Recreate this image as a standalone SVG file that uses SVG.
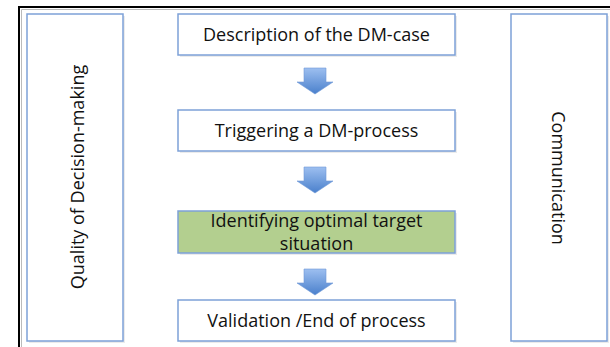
<svg xmlns="http://www.w3.org/2000/svg" width="610" height="347" viewBox="0 0 610 347">
<style>
.box{fill:#fff;stroke:#7da1d8;stroke-width:1.5}
.green{fill:#b3cf8f;stroke:#7da1d8;stroke-width:1.5}
.sh{fill:#000;opacity:0.08}
.t{font-family:"Open Sans","Liberation Sans",Arial,sans-serif;font-size:18px;fill:#111;text-anchor:middle}
.arrow{fill:url(#ag);stroke:#6f98d6;stroke-width:0.6}
</style>
<defs>
<linearGradient id="ag" x1="0" y1="0" x2="0" y2="1">
<stop offset="0" stop-color="#9dbff0"/>
<stop offset="1" stop-color="#4a80cc"/>
</linearGradient>
<path id="arr" d="M-11,0 H11 V14 H18 L0,26 L-18,14 H-11 Z"/>
</defs>
<rect width="610" height="347" fill="#fff"/>
<g id="frame">
<path d="M19,347 V7 H610" fill="none" stroke="#000" stroke-width="2"/>
<path d="M21.5,347 V9.5 H610" fill="none" stroke="#bbb" stroke-width="1"/>
</g>
<g id="left">
<rect class="sh" x="29" y="16" width="96" height="327"/>
<rect class="box" x="27" y="14" width="96" height="327"/>
<text class="t" transform="translate(84,177) rotate(-90)">Quality of Decision-making</text>
</g>
<g id="right">
<rect class="sh" x="513" y="16" width="96" height="327"/>
<rect class="box" x="511" y="14" width="96" height="327"/>
<text class="t" transform="translate(552,178) rotate(90)">Communication</text>
</g>
<g id="n1">
<rect class="sh" x="180" y="16" width="277" height="41"/>
<rect class="box" x="178" y="14" width="277" height="41"/>
<text class="t" x="316.5" y="41">Description of the DM-case</text>
</g>
<g id="n2">
<rect class="sh" x="180" y="112" width="277" height="41"/>
<rect class="box" x="178" y="110" width="277" height="41"/>
<text class="t" x="316.5" y="137">Triggering a DM-process</text>
</g>
<g id="n3">
<rect class="sh" x="180" y="213" width="277" height="42"/>
<rect class="green" x="178" y="211" width="277" height="42"/>
<text class="t" x="316.5" y="227">Identifying optimal target</text>
<text class="t" x="316.5" y="250">situation</text>
</g>
<g id="n4">
<rect class="sh" x="180" y="302" width="277" height="41"/>
<rect class="box" x="178" y="300" width="277" height="41"/>
<text class="t" x="316.5" y="327">Validation /End of process</text>
</g>
<g id="connectors">
<use href="#arr" class="arrow" transform="translate(315,68)"/>
<use href="#arr" class="arrow" transform="translate(315,167)"/>
<use href="#arr" class="arrow" transform="translate(315,269)"/>
</g>
</svg>
